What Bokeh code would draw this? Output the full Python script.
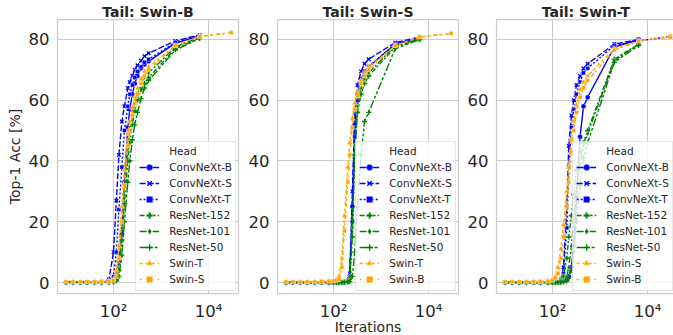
from bokeh.plotting import figure
from bokeh.models import Range1d, FixedTicker, Legend, LegendItem
from bokeh.layouts import row
from bokeh.embed import file_html
from bokeh.resources import INLINE

nan = float("nan")

ITERS = [10, 14, 20, 28, 40, 56, 80, 100, 115, 130, 150, 170, 200, 220, 250, 280, 320, 380, 450, 550, 2000, 6500, 30000]

# ---- Tail: Swin-B ----
B_HEADS = ["ConvNeXt-B", "ConvNeXt-S", "ConvNeXt-T", "ResNet-152", "ResNet-101", "ResNet-50", "Swin-T", "Swin-S"]
B_CONVNEXT_B = [0.1, 0.1, 0.1, 0.1, 0.1, 0.1, 0.1, 0.5, 2, 7, 16, 33, 51, 57, 62, 65.5, 68, 70.5, 71.8, 72.8, 78.8, 81.2, nan]
B_CONVNEXT_S = [0.1, 0.1, 0.1, 0.1, 0.2, 0.3, 1.0, 10, 27, 42, 53, 58, 64, 66, 68, 70, 71.5, 73, 74.5, 75.5, 79.5, 81.5, nan]
B_CONVNEXT_T = [0.1, 0.1, 0.1, 0.1, 0.1, 0.1, 0.3, 2, 10, 24, 38, 50, 58, 62, 65, 67.5, 69.5, 71, 72.5, 73.5, 79, 81.3, nan]
B_RESNET_152 = [0, 0, 0, 0, 0, 0, 0.1, 0.3, 1, 4, 14, 26, 40, 46, 52, 56.5, 60, 63.5, 65.5, 67.5, 77, 80.5, nan]
B_RESNET_101 = [0, 0, 0, 0, 0, 0, 0.1, 0.3, 1.5, 6, 18, 30, 44, 50, 55, 59, 62, 65.5, 67.5, 69, 77.5, 80.7, nan]
B_RESNET_50 = [0, 0, 0, 0, 0, 0, 0.1, 0.2, 0.5, 2, 9, 20, 33, 40, 47, 52, 56, 60.5, 64, 66.5, 76.5, 80.3, nan]
B_SWIN_T = [0.2, 0.2, 0.2, 0.2, 0.2, 0.3, 0.4, 1, 4, 12, 25, 37, 49, 53, 57.5, 61, 64, 67, 69.5, 71, 78, 81, 82.3]
B_SWIN_S = [0.2, 0.2, 0.2, 0.2, 0.2, 0.2, 0.3, 0.7, 2, 8, 20, 32, 45, 50, 55, 59, 62, 65.5, 68, 70, 78, 81, 82.2]

# ---- Tail: Swin-S ----
S_HEADS = ["ConvNeXt-B", "ConvNeXt-S", "ConvNeXt-T", "ResNet-152", "ResNet-101", "ResNet-50", "Swin-T", "Swin-B"]
S_CONVNEXT_B = [0, 0, 0, 0, 0, 0, 0, 0, 0, 0, 0.1, 0.2, 0.5, 2, 25, 52, 62, 67, 69.5, 71, 78.5, 80.5, nan]
S_CONVNEXT_S = [0, 0, 0, 0, 0, 0, 0, 0, 0, 0, 0.1, 0.2, 0.5, 3, 30, 56, 65, 69.5, 72, 73.5, 79, 80.8, nan]
S_CONVNEXT_T = [0, 0, 0, 0, 0, 0, 0, 0, 0, 0, 0.1, 0.1, 0.3, 1.5, 20, 48, 60, 66, 69, 71, 78.5, 80.5, nan]
S_RESNET_152 = [0, 0, 0, 0, 0, 0, 0, 0, 0, 0, 0.1, 0.1, 0.3, 1.5, 15, 42, 56, 62, 65.5, 68, 77.5, 80, nan]
S_RESNET_101 = [0, 0, 0, 0, 0, 0, 0, 0, 0, 0, 0.1, 0.2, 0.5, 2, 18, 45, 58, 64, 67, 69, 78, 80.2, nan]
S_RESNET_50 = [0, 0, 0, 0, 0, 0, 0, 0, 0, 0, 0, 0.1, 0.2, 0.3, 2, 10, 25, 42, 53, 56, 77, 80, nan]
S_SWIN_T = [0.2, 0.2, 0.2, 0.2, 0.3, 0.3, 0.5, 0.7, 1, 2, 8, 22, 38, 46, 54, 59, 63, 66.5, 69, 71, 78, 80.8, 82]
S_SWIN_B = [0.2, 0.2, 0.2, 0.2, 0.2, 0.3, 0.4, 0.5, 0.7, 1, 5, 17, 33, 42, 51, 57, 61.5, 65.5, 68, 70, 78, 80.8, 82]

# ---- Tail: Swin-T ----
T_HEADS = ["ConvNeXt-B", "ConvNeXt-S", "ConvNeXt-T", "ResNet-152", "ResNet-101", "ResNet-50", "Swin-S", "Swin-B"]
T_CONVNEXT_B = [0, 0, 0, 0, 0, 0, 0, 0, 0, 0, 0.2, 0.5, 1, 2, 5, 12, 28, 48, 58, 61, 77.5, 80, nan]
T_CONVNEXT_S = [0, 0, 0, 0, 0, 0, 0, 0, 0.1, 0.3, 1, 5, 25, 45, 55, 60, 65, 68, 70.5, 72, 78.5, 80, nan]
T_CONVNEXT_T = [0, 0, 0, 0, 0, 0, 0, 0, 0, 0.1, 0.5, 3, 18, 38, 51, 57, 62, 66, 69, 70.5, 78, 79.5, 81]
T_RESNET_152 = [0, 0, 0, 0, 0, 0, 0, 0, 0, 0.1, 0.5, 2, 8, 15, 22, 29, 37, 43, 46, 50, 73.5, 78.5, nan]
T_RESNET_101 = [0, 0, 0, 0, 0, 0, 0, 0, 0, 0, 0.2, 0.5, 2, 5, 12, 20, 30, 39, 45, 49, 73, 78.5, nan]
T_RESNET_50 = [0, 0, 0, 0, 0, 0, 0, 0, 0, 0, 0.1, 0.2, 0.5, 1.5, 4, 10, 20, 32, 41, 46, 72.5, 78, nan]
T_SWIN_S = [0.2, 0.2, 0.2, 0.2, 0.3, 0.3, 0.5, 1, 2, 5, 11, 19, 30, 38, 47, 53, 58.5, 63.5, 66, 68, 77, 79.5, 81]
T_SWIN_B = [0.2, 0.2, 0.2, 0.2, 0.2, 0.3, 0.4, 0.7, 1.5, 3, 8, 15, 25, 33, 43, 50, 56, 61, 64, 66.5, 76.5, 79.5, 80.8]

PANELS = [
    ("Tail: Swin-B", B_HEADS, [B_CONVNEXT_B, B_CONVNEXT_S, B_CONVNEXT_T, B_RESNET_152, B_RESNET_101, B_RESNET_50, B_SWIN_T, B_SWIN_S]),
    ("Tail: Swin-S", S_HEADS, [S_CONVNEXT_B, S_CONVNEXT_S, S_CONVNEXT_T, S_RESNET_152, S_RESNET_101, S_RESNET_50, S_SWIN_T, S_SWIN_B]),
    ("Tail: Swin-T", T_HEADS, [T_CONVNEXT_B, T_CONVNEXT_S, T_CONVNEXT_T, T_RESNET_152, T_RESNET_101, T_RESNET_50, T_SWIN_S, T_SWIN_B]),
]

X_TICKS = [100, 10000]
X_TICK_LABELS = {100: "10\u00b2", 10000: "10\u2074"}
Y_TICKS = [0, 20, 40, 60, 80]

# styles by position in the hue order
COLORS = ["#0000ff", "#0000ff", "#0000ff", "#008000", "#008000", "#008000", "#ffa500", "#ffa500"]
DASHES = ["solid", "6 2", "2 2", "5 2 2 2", "7 2 2 2", "8 2 3 2 3 2", "3 3 4 2", "2 4 4 2"]
MARKERS = ["circle", "x", "square", "plus", "diamond", "cross", "triangle", "square"]
MSIZES = [5, 5, 4, 5.5, 5, 5, 5.5, 4]

FONT = "DejaVu Sans"
TXT = "#262626"
GRID = "#cccccc"

FRAME_H = 274
X_START = 6.62
Y_START, Y_END = -3.62, 86.58

# (frame width, x end, min_border_left, min_border_right)
GEOM = [(181, 42850, 57, 7), (181, 42850, 30, 6), (179, 38850, 31, 1)]

figs = []
for k, (title, heads, series) in enumerate(PANELS):
    fw, xend, bl, br = GEOM[k]
    p = figure(x_axis_type="log", frame_width=fw, frame_height=FRAME_H,
               x_range=Range1d(X_START, xend), y_range=Range1d(Y_START, Y_END),
               output_backend="svg", toolbar_location=None,
               min_border_left=bl, min_border_right=br, min_border_top=19,
               min_border_bottom=2, background_fill_color="white", border_fill_color="white")
    p.title.text = title
    p.title.align = "center"
    p.title.text_font = FONT
    p.title.text_font_size = "14px"
    p.title.text_font_style = "bold"
    p.title.text_color = TXT
    p.title.standoff = 0
    p.title.offset = 0
    p.outline_line_color = GRID
    p.outline_line_width = 1.25
    p.grid.grid_line_color = GRID
    p.grid.grid_line_width = 1
    p.xaxis.ticker = FixedTicker(ticks=X_TICKS, minor_ticks=[])
    p.xaxis.major_label_overrides = X_TICK_LABELS
    p.yaxis.ticker = FixedTicker(ticks=Y_TICKS, minor_ticks=[])
    for ax in (p.xaxis, p.yaxis):
        ax.axis_line_color = None
        ax.major_tick_line_color = None
        ax.minor_tick_line_color = None
        ax.major_tick_out = 0
        ax.major_tick_in = 0
        ax.minor_tick_out = 0
        ax.minor_tick_in = 0
        ax.major_label_text_font = FONT
        ax.major_label_text_font_size = "16.5px"
        ax.major_label_text_color = TXT
        ax.major_label_standoff = 8
        ax.axis_label_text_font = FONT
        ax.axis_label_text_font_size = "14px"
        ax.axis_label_text_font_style = "normal"
        ax.axis_label_text_color = TXT
    p.xaxis.major_label_standoff = 8
    if k == 0:
        p.yaxis.axis_label = "Top-1 Acc [%]"
        p.yaxis.axis_label_standoff = 3
    if k == 1:
        p.xaxis.axis_label = "Iterations"
        p.xaxis.axis_label_standoff = -5

    items = []
    for i, (head, ys) in enumerate(zip(heads, series)):
        c = COLORS[i]
        lr = p.line(ITERS, ys, line_color=c, line_width=1.4, line_dash=DASHES[i])
        if MARKERS[i] in ("x", "cross"):
            sr = p.scatter(ITERS, ys, marker=MARKERS[i], size=MSIZES[i], line_color=c, line_width=1.3)
        else:
            sr = p.scatter(ITERS, ys, marker=MARKERS[i], size=MSIZES[i], fill_color=c,
                           line_color="white", line_width=0.4)
        items.append(LegendItem(label=head, renderers=[lr, sr]))

    leg = Legend(items=items, location="bottom_right", title="\u00a0" * 9 + "Head")
    leg.label_text_font = FONT
    leg.label_text_font_size = "10.5px"
    leg.label_text_color = TXT
    leg.title_text_font = FONT
    leg.title_text_font_size = "10.5px"
    leg.title_text_font_style = "normal"
    leg.title_text_color = TXT
    leg.title_standoff = 2
    leg.border_line_color = GRID
    leg.border_line_width = 1
    leg.background_fill_color = "white"
    leg.background_fill_alpha = 0.8
    leg.glyph_width = 20
    leg.glyph_height = 16
    leg.label_height = 14
    leg.spacing = 0
    leg.padding = 3
    leg.margin = 2
    leg.label_standoff = 10
    p.add_layout(leg)
    figs.append(p)

layout = row(*figs)
open("out.html", "w").write(file_html(layout, INLINE))
